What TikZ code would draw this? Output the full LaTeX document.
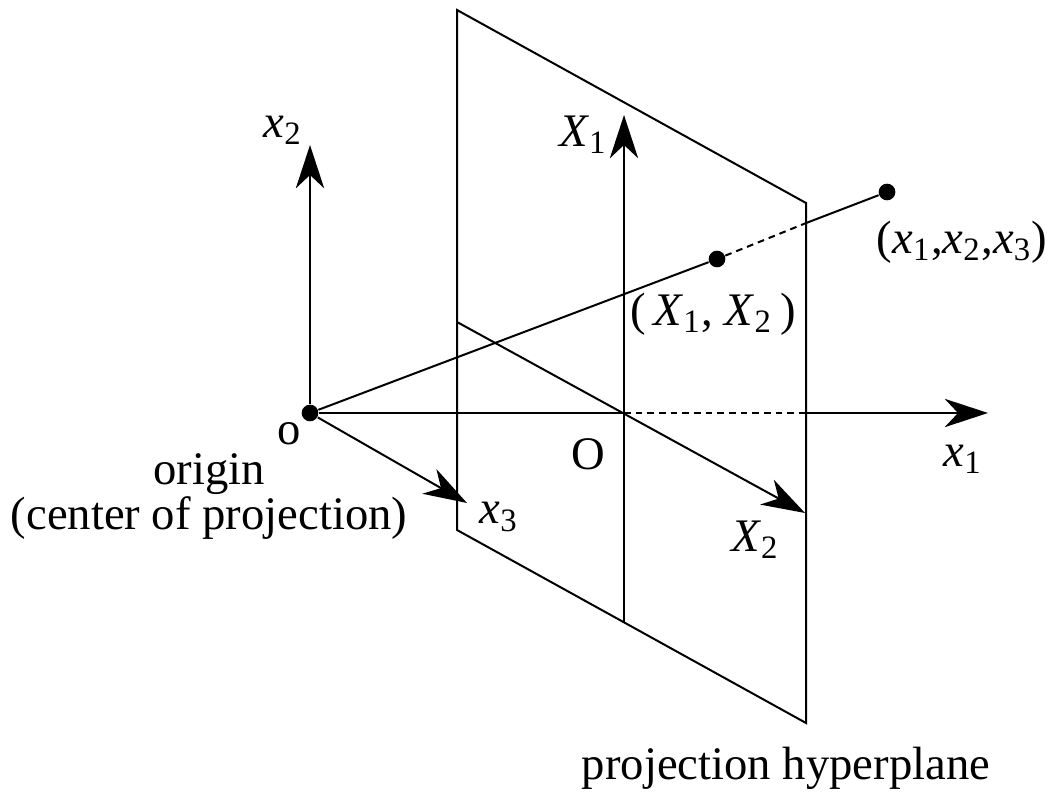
\documentclass[tikz,border=0pt]{standalone}
\usepackage{fontspec}
\setmainfont{Liberation Serif}
\usetikzlibrary{arrows.meta,calc}

\newcommand{\axlabel}[2]{\textit{#1}\textsubscript{#2}}

\tikzset{
  axis arrow/.style={
    -{Stealth[length=13pt,width=8.5pt,inset=4pt]},
    line width=0.6pt
  },
  plane edge/.style={line width=0.6pt},
  hidden line/.style={line width=0.6pt, dash pattern=on 2pt off 1.5pt},
  point dot/.style={circle, fill=black, inner sep=0pt, minimum size=5pt},
  lbl/.style={inner sep=0pt, font=\fontsize{14}{13.5}\selectfont}
}

\begin{document}
\begin{tikzpicture}[x=0.3pt, y=-0.3pt]
  \useasboundingbox (0,0) rectangle (1061,792);

  % Projection hyperplane
  \coordinate (pTL) at (457,10);
  \coordinate (pTR) at (806,203);
  \coordinate (pBR) at (806,723);
  \coordinate (pBL) at (457,530);
  \draw[plane edge] (pTL) -- (pTR) -- (pBR) -- (pBL) -- cycle;

  % Points
  \node[point dot] (o) at (310,413) {};
  \node[point dot] (pX) at (717,259) {};
  \node[point dot] (px) at (887,192) {};
  \coordinate (O) at (624,413);
  \coordinate (rayHit) at (intersection of o--px and pTR--pBR);
  \coordinate (axisHit) at (806,413);

  % Projection ray
  \draw[plane edge] (o) -- (pX);
  \draw[hidden line] (pX) -- (rayHit);
  \draw[plane edge] (rayHit) -- (px);

  % Axes of the space
  \coordinate (x1tip) at (988,413);
  \coordinate (x2tip) at (310,145);
  \coordinate (x3tip) at (467,503);
  \draw[plane edge] (o) -- (O);
  \draw[hidden line] (O) -- (axisHit);
  \draw[axis arrow] (axisHit) -- (x1tip);
  \draw[axis arrow] (o) -- (x2tip);
  \draw[axis arrow] (o) -- (x3tip);

  % Axes of the hyperplane
  \coordinate (X1foot) at (624,622);
  \coordinate (X1tip) at (624,115);
  \coordinate (X2foot) at (457,322);
  \coordinate (X2tip) at (805,513);
  \draw[axis arrow, line width=0.5pt] (X1foot) -- (X1tip);
  \draw[axis arrow] (X2foot) -- (X2tip);

  % Labels
  \node[lbl] (x1lbl) at (963,459) {\axlabel{x}{1}};
  \node[lbl] (x2lbl) at (283,130) {\axlabel{x}{2}};
  \node[lbl] (x3lbl) at (499,517) {\axlabel{x}{3}};
  \node[lbl] (X1lbl) at (583,135) {\axlabel{X}{1}};
  \node[lbl] (X2lbl) at (755,540) {\axlabel{X}{2}};
  \node[lbl] (olbl) at (289,434) {o};
  \node[lbl] (Olbl) at (588,454) {O};
  \node[lbl] (pXlbl) at (713,314) {(\,\axlabel{X}{1}, \axlabel{X}{2}\,)};
  \node[lbl] (pxlbl) at (962,242) {(\axlabel{x}{1},\axlabel{x}{2},\axlabel{x}{3})};
  \node[lbl, align=center] (originlbl) at (209,497) {origin\\(center of projection)};
  \node[lbl] (planelbl) at (786,768) {projection hyperplane};
\end{tikzpicture}
\end{document}
